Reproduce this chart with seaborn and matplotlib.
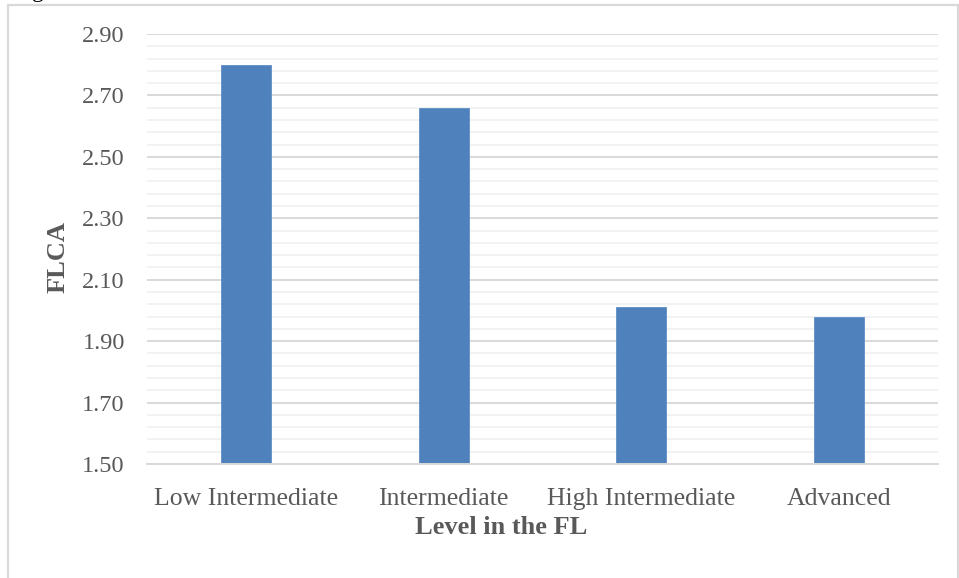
import numpy as np
import matplotlib
matplotlib.use("Agg")
import matplotlib.pyplot as plt
import seaborn as sns
from matplotlib.lines import Line2D

categories = ["Low Intermediate", "Intermediate", "High Intermediate", "Advanced"]
values = [2.80, 2.66, 2.01, 1.98]
y_major = [1.50, 1.70, 1.90, 2.10, 2.30, 2.50, 2.70, 2.90]
y_label = "FLCA"
x_label = "Level in the FL"

sns.set_theme(style="white")
plt.rcParams["font.family"] = ["Liberation Serif", "DejaVu Serif"]

W, H = 959, 578
fig = plt.figure(figsize=(W / 100, H / 100), dpi=100)
ax = fig.add_axes([147 / W, 1 - 464 / H, 791 / W, 430 / H])

sns.barplot(x=categories, y=values, color="#4F81BD", saturation=1, width=0.253, ax=ax,
            edgecolor="#5E8DC6", linewidth=0.6)

ax.set_ylim(1.50, 2.90)
ax.set_yticks(y_major)
ax.set_yticklabels([f"{v:.2f}" for v in y_major])
ax.set_yticks(np.arange(1.54, 2.90, 0.04), minor=True)
ax.set_axisbelow(True)
ax.grid(which="major", axis="y", color="#D9D9D9", linewidth=1.4)
ax.grid(which="minor", axis="y", color="#F2F2F2", linewidth=1.4)
ax.grid(which="major", axis="x", visible=False)

for s in ["top", "right", "left"]:
    ax.spines[s].set_visible(False)
ax.spines["bottom"].set_color("#D9D9D9")
ax.spines["bottom"].set_linewidth(1.4)

ax.tick_params(axis="both", which="both", length=0, labelcolor="#595959")
ax.tick_params(axis="y", pad=16, labelsize=17.5)
ax.tick_params(axis="x", pad=17, labelsize=18.5)

ax.set_xlabel(x_label, fontsize=19, fontweight="bold", color="#595959")
ax.set_ylabel(y_label, fontsize=19, fontweight="bold", color="#595959")
ax.xaxis.set_label_coords((501 - 147) / 791, (464 - 528) / 430)
ax.xaxis.label.set_va("center")
ax.yaxis.set_label_coords((58 - 147) / 791, (464 - 257) / 430)
ax.yaxis.label.set_va("center")

# chart-area border
bc = "#D9D9D9"
fig.add_artist(Line2D([8 / W, 8 / W], [0, 1 - 5 / H], color=bc, linewidth=1.6, transform=fig.transFigure))
fig.add_artist(Line2D([8 / W, 958 / W], [1 - 5 / H, 1 - 5 / H], color=bc, linewidth=1.6, transform=fig.transFigure))
fig.add_artist(Line2D([958 / W, 958 / W], [0, 1 - 5 / H], color=bc, linewidth=1.6, transform=fig.transFigure))

# fragment of caption text above the chart (only the descender is visible, as in the source)
fig.text(32 / W, 1 + 3 / H, "g", fontsize=17, color="black", va="baseline", ha="left")

fig.savefig("out.png", dpi=100)
